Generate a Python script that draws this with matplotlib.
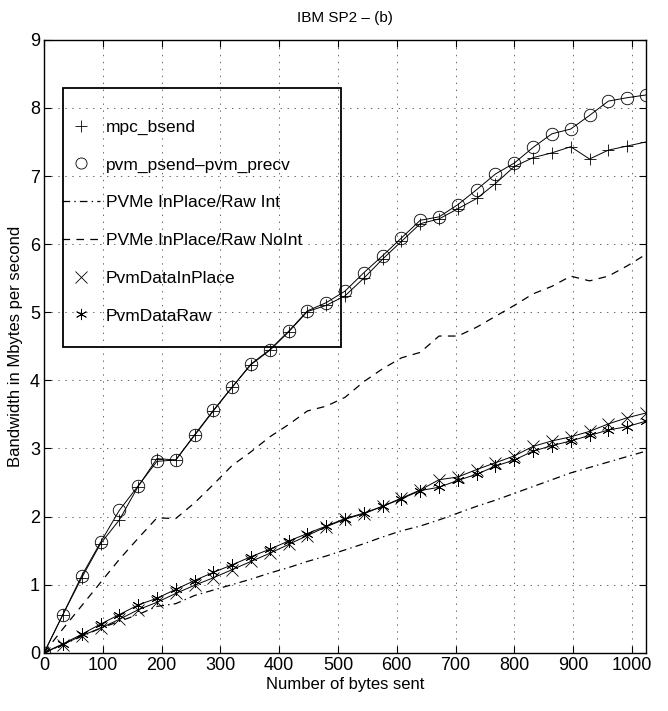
import matplotlib
matplotlib.use("Agg")
import matplotlib.pyplot as plt
from matplotlib.lines import Line2D
from matplotlib.patches import Rectangle

plt.rcParams['font.family'] = ['Liberation Sans Narrow', 'Liberation Sans', 'DejaVu Sans']
plt.rcParams['lines.scale_dashes'] = False

# bytes sent, every 32 bytes
nbytes = list(range(0, 1025, 32))

mpc_bsend = [0, 0.56, 1.10, 1.60, 1.95, 2.44, 2.85, 2.83, 3.19, 3.55, 3.90, 4.23, 4.44,
             4.71, 5.01, 5.10, 5.24, 5.50, 5.78, 6.04, 6.30, 6.37, 6.52, 6.67, 6.89,
             7.14, 7.27, 7.34, 7.43, 7.25, 7.38, 7.44, 7.50]
pvm_psend = [0, 0.56, 1.13, 1.62, 2.09, 2.45, 2.81, 2.83, 3.20, 3.56, 3.90, 4.24, 4.45,
             4.72, 5.02, 5.14, 5.31, 5.58, 5.83, 6.09, 6.35, 6.40, 6.58, 6.80, 7.03,
             7.19, 7.42, 7.62, 7.69, 7.89, 8.10, 8.15, 8.19]
pvme_int = [0, 0.12, 0.24, 0.36, 0.46, 0.56, 0.68, 0.72, 0.84, 0.92, 1.00, 1.08, 1.17,
            1.25, 1.34, 1.42, 1.51, 1.60, 1.70, 1.79, 1.86, 1.95, 2.05, 2.15, 2.24,
            2.34, 2.44, 2.54, 2.64, 2.72, 2.80, 2.88, 2.96]
pvme_noint = [0, 0.35, 0.69, 1.03, 1.37, 1.68, 1.98, 1.97, 2.20, 2.47, 2.75, 2.95, 3.17,
              3.35, 3.55, 3.62, 3.75, 3.98, 4.17, 4.33, 4.41, 4.65, 4.65, 4.78, 4.94,
              5.10, 5.27, 5.38, 5.53, 5.46, 5.53, 5.68, 5.85]
data_inplace = [0, 0.12, 0.25, 0.36, 0.49, 0.63, 0.74, 0.87, 0.99, 1.10, 1.22, 1.34, 1.46,
                1.59, 1.72, 1.85, 1.96, 2.04, 2.15, 2.27, 2.39, 2.54, 2.58, 2.69, 2.79,
                2.89, 3.03, 3.11, 3.17, 3.25, 3.36, 3.45, 3.52]
data_raw = [0, 0.13, 0.27, 0.42, 0.56, 0.70, 0.80, 0.93, 1.06, 1.18, 1.29, 1.41, 1.52,
            1.64, 1.75, 1.86, 1.97, 2.05, 2.15, 2.26, 2.38, 2.43, 2.53, 2.62, 2.74,
            2.83, 2.96, 3.04, 3.11, 3.19, 3.27, 3.32, 3.40]

labels = ['mpc_bsend', 'pvm_psend\u2013pvm_precv', 'PVMe InPlace/Raw Int',
          'PVMe InPlace/Raw NoInt', 'PvmDataInPlace', 'PvmDataRaw']

asterisk = (6, 2, 0)
dash = (0, (5.5, 4.5))
dashdot = (0, (5.5, 3, 1, 3))

fig = plt.figure(figsize=(6.68, 7.11), dpi=100)
ax = fig.add_axes([0.066, 0.082, 0.901, 0.862])

lw = 0.7
ms = 9
mk = dict(color='k', lw=lw, ms=ms, mfc='none', mec='k', mew=0.6)
ax.plot(nbytes, mpc_bsend, marker='+', **mk)
ax.plot(nbytes, pvm_psend, marker='o', **mk)
ax.plot(nbytes, pvme_int, color='k', lw=0.9, linestyle=dashdot)
ax.plot(nbytes, pvme_noint, color='k', lw=0.9, linestyle=dash)
ax.plot(nbytes, data_inplace, marker='x', **mk)
ax.plot(nbytes, data_raw, marker=asterisk, **mk)

ax.set_xlim(0, 1024)
ax.set_ylim(0, 9)
ax.set_xticks(range(0, 1001, 100))
ax.set_yticks(range(0, 10))
ax.tick_params(direction='in', length=5, width=0.8, top=True, right=True,
               labelsize=13, pad=3)
ax.grid(True, color='0.3', linestyle=(0, (1, 4)), linewidth=0.6)
for s in ax.spines.values():
    s.set_linewidth(1.0)

ax.set_xlabel('Number of bytes sent', fontsize=12, labelpad=2)
ax.set_ylabel('Bandwidth in Mbytes per second', fontsize=12, labelpad=5)
ax.set_title('IBM SP2 \u2013 (b)', fontsize=11, pad=13)

# legend, MATLAB style: markers only for the marker series
handles = [
    Line2D([], [], linestyle='none', marker='+', color='k', ms=ms, mew=0.6),
    Line2D([], [], linestyle='none', marker='o', color='k', ms=ms - 1, mfc='none', mew=0.6),
    Line2D([], [], color='k', lw=0.9, linestyle=dashdot),
    Line2D([], [], color='k', lw=0.9, linestyle=dash),
    Line2D([], [], linestyle='none', marker='x', color='k', ms=ms - 1, mew=0.6),
    Line2D([], [], linestyle='none', marker=asterisk, color='k', ms=ms - 1, mew=0.6),
]
ax.add_patch(Rectangle((0.032, 0.498), 0.461, 0.424, transform=ax.transAxes,
                       fill=False, edgecolor='k', lw=1.3, zorder=5))
leg = ax.legend(handles, labels, loc='upper left', bbox_to_anchor=(0.030, 0.870),
                frameon=False, borderpad=0, borderaxespad=0, labelspacing=1.3,
                handlelength=2.2, handletextpad=0.3, fontsize=12.5)

fig.savefig('out.png', dpi=100)
